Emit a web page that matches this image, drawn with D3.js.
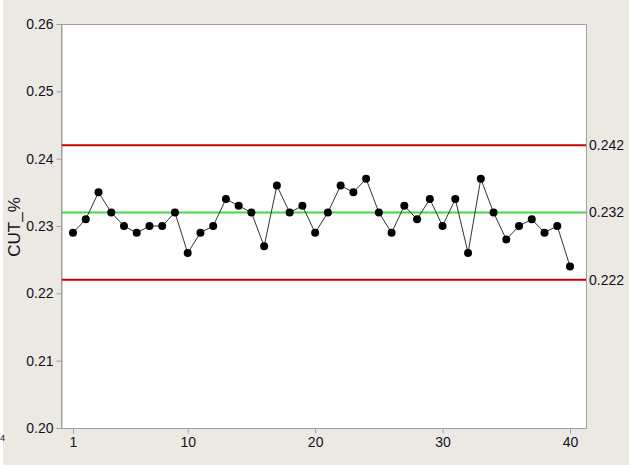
<!DOCTYPE html>
<html>
<head>
<meta charset="utf-8">
<script src="https://cdn.jsdelivr.net/npm/d3@7"></script>
<style>
  body { margin: 0; background: #fff; }
  svg { display: block; }
</style>
</head>
<body>
<script>
var samples = d3.range(1, 41);
var cutValues = [0.229, 0.231, 0.235, 0.232, 0.230, 0.229, 0.230, 0.230, 0.232, 0.226,
                 0.229, 0.230, 0.234, 0.233, 0.232, 0.227, 0.236, 0.232, 0.233, 0.229,
                 0.232, 0.236, 0.235, 0.237, 0.232, 0.229, 0.233, 0.231, 0.234, 0.230,
                 0.234, 0.226, 0.237, 0.232, 0.228, 0.230, 0.231, 0.229, 0.230, 0.224];
var yTicks = [0.20, 0.21, 0.22, 0.23, 0.24, 0.25, 0.26];
var xTicks = [1, 10, 20, 30, 40];
var limitValues = [0.242, 0.232, 0.222];
var limitLabels = ["0.242", "0.232", "0.222"];
var limitColors = ["#cc0000", "#44d844", "#cc0000"];

var w = 629, h = 472;
// plot frame (note: "top" is a reserved window prop, so use pl/pr/pt/pb)
var pl = 61, pr = 586, pt = 24, pb = 428;

var svg = d3.select("body").append("svg")
    .attr("width", w)
    .attr("height", h);

// beige background
svg.append("rect")
    .attr("x", 3).attr("y", 0)
    .attr("width", w - 3).attr("height", 465)
    .attr("fill", "#ece9e3");

var x = d3.scaleLinear().domain([1, 40]).range([73, 570]);
var y = d3.scaleLinear().domain([0.20, 0.26]).range([pb, pt]);

// plot area
svg.append("rect")
    .attr("x", pl + 0.5).attr("y", pt + 0.5)
    .attr("width", pr - pl).attr("height", pb - pt)
    .attr("fill", "#fff")
    .attr("stroke", "#a0a0a0")
    .attr("stroke-width", 1);

var font = "'Liberation Sans', Arial, sans-serif";
var textCol = "#111122";

// y axis
var yAxis = svg.append("g")
    .attr("transform", "translate(" + (pl + 0.5) + ",0)")
    .call(d3.axisLeft(y).tickValues(yTicks).tickFormat(d3.format(".2f")).tickSize(5).tickPadding(3));
yAxis.select(".domain").attr("stroke", "#a0a0a0");
yAxis.selectAll(".tick line").attr("stroke", "#a0a0a0");
yAxis.selectAll("text")
    .attr("font-family", font)
    .attr("font-size", "14px")
    .attr("fill", textCol);

// x axis
var xAxis = svg.append("g")
    .attr("transform", "translate(0," + (pb + 0.5) + ")")
    .call(d3.axisBottom(x).tickValues(xTicks).tickSize(5).tickPadding(4));
xAxis.select(".domain").remove();
xAxis.selectAll(".tick line").attr("stroke", "#a0a0a0");
xAxis.selectAll("text")
    .attr("font-family", font)
    .attr("font-size", "14px")
    .attr("fill", textCol);

// control limits
svg.selectAll(".limit")
    .data(limitValues)
    .enter()
    .append("line")
    .attr("class", "limit")
    .attr("x1", pl + 1)
    .attr("x2", pr)
    .attr("y1", function(d) { return y(d); })
    .attr("y2", function(d) { return y(d); })
    .attr("stroke", function(d, i) { return limitColors[i]; })
    .attr("stroke-width", 2);

svg.selectAll(".limitLabel")
    .data(limitValues)
    .enter()
    .append("text")
    .attr("class", "limitLabel")
    .attr("x", pr + 3)
    .attr("y", function(d) { return y(d); })
    .attr("dy", "0.35em")
    .attr("font-family", font)
    .attr("font-size", "14px")
    .attr("fill", textCol)
    .text(function(d, i) { return limitLabels[i]; });

// series line + points
var line = d3.line()
    .x(function(d, i) { return x(samples[i]); })
    .y(function(d) { return y(d); });

svg.append("path")
    .datum(cutValues)
    .attr("d", line)
    .attr("fill", "none")
    .attr("stroke", "#333")
    .attr("stroke-width", 1);

svg.selectAll(".pt")
    .data(cutValues)
    .enter()
    .append("circle")
    .attr("class", "pt")
    .attr("cx", function(d, i) { return x(samples[i]); })
    .attr("cy", function(d) { return y(d); })
    .attr("r", 4)
    .attr("fill", "#000");

// y title
svg.append("text")
    .attr("transform", "translate(20,227) rotate(-90)")
    .attr("text-anchor", "middle")
    .attr("font-family", font)
    .attr("font-size", "17px")
    .attr("fill", textCol)
    .text("CUT_%");

// stray cropped glyph at left edge
svg.append("text")
    .attr("x", 0).attr("y", 441)
    .attr("font-family", font)
    .attr("font-size", "9px")
    .attr("fill", textCol)
    .text("4");
</script>
</body>
</html>
